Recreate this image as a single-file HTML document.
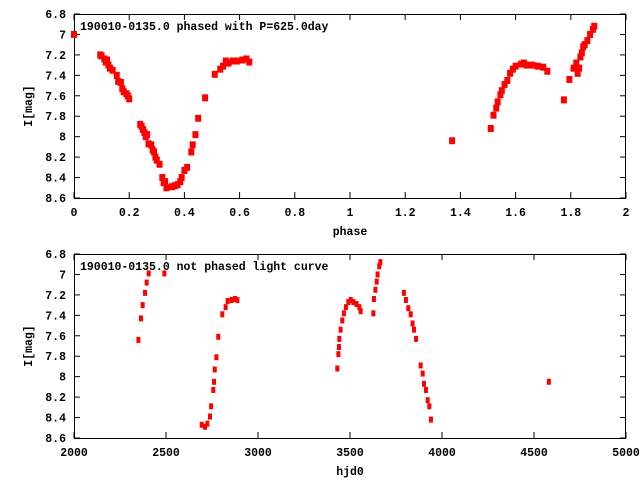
<!DOCTYPE html>
<html><head><meta charset="utf-8"><style>
html,body{margin:0;padding:0;background:#fff;}
svg{display:block;font-family:"Liberation Mono","DejaVu Sans Mono",monospace;font-weight:bold;font-size:11.5px;}
</style></head><body>
<svg id="chart" width="640" height="480" viewBox="0 0 640 480" xmlns="http://www.w3.org/2000/svg"></svg>
<script>
const phaseX=[0,0.095,0.1,0.11,0.115,0.12,0.125,0.13,0.14,0.155,0.16,0.17,0.175,0.18,0.19,0.195,0.2,0.24,0.245,0.25,0.255,0.26,0.265,0.27,0.28,0.285,0.29,0.295,0.3,0.31,0.32,0.325,0.33,0.335,0.355,0.365,0.375,0.385,0.39,0.4,0.41,0.425,0.43,0.44,0.45,0.475,0.51,0.53,0.54,0.55,0.56,0.575,0.59,0.61,0.625,0.635,1.37,1.51,1.52,1.53,1.535,1.545,1.55,1.56,1.57,1.58,1.59,1.6,1.62,1.63,1.64,1.66,1.68,1.7,1.715,1.775,1.795,1.81,1.82,1.825,1.83,1.835,1.84,1.845,1.85,1.86,1.87,1.88,1.885];
const phaseMag=[7.0,7.2,7.21,7.24,7.27,7.25,7.3,7.33,7.35,7.4,7.46,7.47,7.53,7.56,7.58,7.6,7.63,7.88,7.9,7.93,7.96,8.0,7.98,8.07,8.08,8.13,8.15,8.2,8.23,8.27,8.4,8.45,8.44,8.5,8.49,8.48,8.47,8.44,8.4,8.33,8.3,8.15,8.08,7.98,7.82,7.62,7.39,7.34,7.31,7.26,7.28,7.26,7.26,7.25,7.24,7.27,8.04,7.92,7.79,7.72,7.66,7.59,7.55,7.49,7.45,7.38,7.34,7.31,7.29,7.28,7.3,7.3,7.31,7.32,7.36,7.64,7.44,7.33,7.28,7.38,7.33,7.22,7.18,7.12,7.1,7.06,7.0,6.95,6.92];
const hjd=[2350,2364,2373,2386,2395,2406,2491,2694,2712,2725,2739,2745,2757,2761,2765,2774,2784,2806,2824,2835,2857,2875,2888,3431,3437,3440,3442,3449,3458,3467,3478,3491,3504,3518,3536,3551,3558,3627,3630,3638,3645,3650,3659,3665,3793,3804,3817,3830,3840,3848,3859,3884,3895,3902,3913,3922,3931,3940,4581];
const hjdMag=[7.64,7.43,7.30,7.18,7.08,6.99,6.99,8.47,8.49,8.46,8.39,8.29,8.13,8.05,7.93,7.81,7.61,7.39,7.32,7.26,7.25,7.24,7.25,7.92,7.78,7.71,7.63,7.54,7.45,7.38,7.32,7.27,7.25,7.27,7.29,7.32,7.36,7.38,7.24,7.15,7.07,7.0,6.92,6.88,7.18,7.25,7.33,7.39,7.48,7.54,7.63,7.89,7.97,8.07,8.13,8.23,8.29,8.42,8.05];
const yTicks=[6.8,7,7.2,7.4,7.6,7.8,8,8.2,8.4,8.6];
const xTicksTop=[0,0.2,0.4,0.6,0.8,1,1.2,1.4,1.6,1.8,2];
const xTicksBot=[2000,2500,3000,3500,4000,4500,5000];
const NS="http://www.w3.org/2000/svg";
const svg=document.getElementById('chart');
function mk(tag,attrs,parent){const e=document.createElementNS(NS,tag);for(const k in attrs)e.setAttribute(k,attrs[k]);(parent||svg).appendChild(e);return e;}
function panel(name,top,xmin,xmax,xt,xs,ys,title,xlabel,mw,mh){
  const L=74,R=626,T=top,B=top+184;
  const g=mk('g',{});
  
  
  const sx=v=>L+(v-xmin)/(xmax-xmin)*(R-L);
  const sy=v=>T+(v-6.8)/1.8*(B-T);
  yTicks.forEach(v=>{const y=sy(v);
    mk('line',{x1:L,x2:L+6,y1:y,y2:y,stroke:'#000'},g);mk('line',{x1:R-6,x2:R,y1:y,y2:y,stroke:'#000'},g);
    const t=mk('text',{x:L-8,y:y+4,'text-anchor':'end'},g);t.textContent=String(v);
    });
  xt.forEach(v=>{const x=sx(v);
    mk('line',{x1:x,x2:x,y1:B,y2:B-6,stroke:'#000'},g);mk('line',{x1:x,x2:x,y1:T,y2:T+6,stroke:'#000'},g);
    const t=mk('text',{x:x,y:B+18,'text-anchor':'middle'},g);t.textContent=String(v);
    });
  const fr=mk('rect',{x:L+0.5,y:T+0.5,width:R-L-1,height:B-T,fill:'none',stroke:'#000'},g);
  
  const tt=mk('text',{x:L+6,y:T+16},g);tt.textContent=title;
  
  const xl=mk('text',{x:(L+R)/2,y:B+37,'text-anchor':'middle'},g);xl.textContent=xlabel;
  
  const yl=mk('text',{x:0,y:0,'text-anchor':'middle',transform:`translate(32,${(T+B)/2}) rotate(-90)`},g);yl.textContent='I[mag]';
  
  xs.forEach((v,i)=>{const r=mk('rect',{x:sx(v)-mw/2,y:sy(ys[i])-mh/2,width:mw,height:mh,fill:'#f00'},g);
    });
}
panel('phased-plot',14,0,2,xTicksTop,phaseX,phaseMag,'190010-0135.0 phased with P=625.0day','phase',6,7);
panel('unphased-plot',254,2000,5000,xTicksBot,hjd,hjdMag,'190010-0135.0 not phased light curve','hjd0',4,6);
</script>
</body></html>
